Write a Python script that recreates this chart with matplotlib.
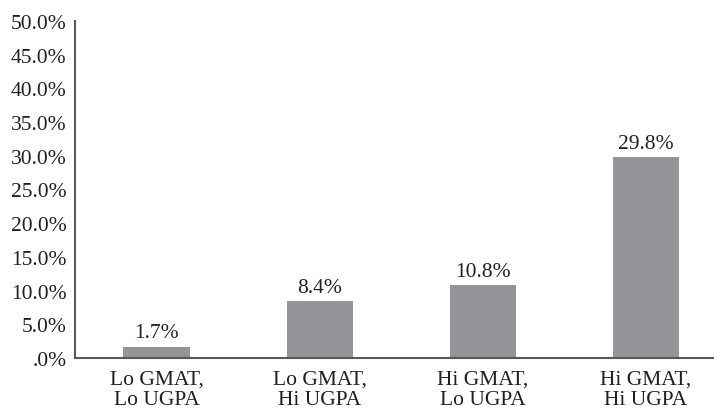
import numpy as np
import matplotlib.pyplot as plt
from matplotlib.ticker import FuncFormatter

categories = ['Lo GMAT,\nLo UGPA', 'Lo GMAT,\nHi UGPA', 'Hi GMAT,\nLo UGPA', 'Hi GMAT,\nHi UGPA']
values = [1.7, 8.4, 10.8, 29.8]
yticks = np.arange(0, 55, 5)


def pct(v, pos):
    s = '%.1f%%' % v
    return s[1:] if s.startswith('0.') else s


def make_chart():
    plt.rcParams['font.family'] = 'Liberation Serif'
    plt.rcParams['font.size'] = 15.5
    text_color = '#231f20'

    fig = plt.figure(figsize=(7.14, 4.10), dpi=100)
    ax = fig.add_axes([75/714, 1 - 359/410, 1 - 75/714, 337/410])

    x = np.arange(len(categories))
    ax.bar(x, values, width=0.405, color='#949599')
    for xi, v in zip(x, values):
        ax.text(xi, v + 0.6, '%.1f%%' % v, ha='center', va='bottom', color=text_color)

    ax.set_xlim(-0.5, 3.42)
    ax.set_ylim(0, 50)
    ax.set_yticks(yticks)
    ax.yaxis.set_major_formatter(FuncFormatter(pct))
    ax.set_xticks(x)
    ax.set_xticklabels(categories, linespacing=1.1)
    ax.tick_params(length=0, colors=text_color, labelsize=15.5)
    ax.tick_params(axis='y', pad=6)
    ax.tick_params(axis='x', pad=8)

    for side in ('top', 'right'):
        ax.spines[side].set_visible(False)
    for side in ('left', 'bottom'):
        ax.spines[side].set_color('#58595b')
        ax.spines[side].set_linewidth(1.5)

    fig.savefig('out.png', dpi=100)
    plt.close()


if __name__ == "__main__":
    make_chart()
